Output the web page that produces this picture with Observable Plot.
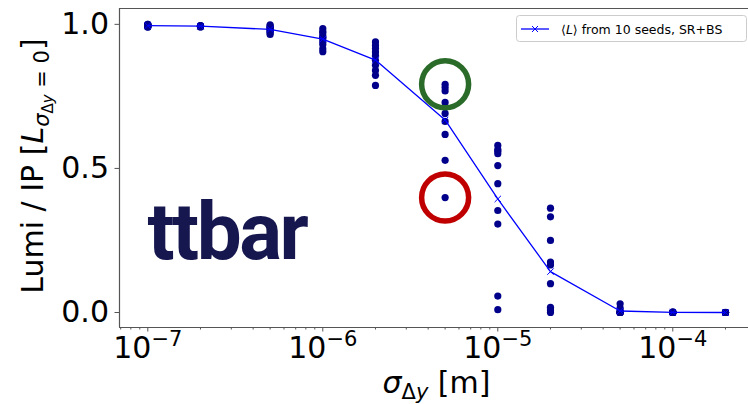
<!DOCTYPE html>
<html>
<head>
<meta charset="utf-8">
<script src="https://cdn.jsdelivr.net/npm/d3@7"></script>
<script src="https://cdn.jsdelivr.net/npm/@observablehq/plot@0.6"></script>
<style>
  html, body { margin: 0; padding: 0; background: #fff; }
  #chart svg { display: block; }
</style>
</head>
<body>
<div id="chart"></div>
<script>
// Vertical beam-offset jitter σ_Δy [m] scanned in the simulation
const sigmaDy = [1e-7, 2e-7, 5e-7, 1e-6, 2e-6, 5e-6, 1e-5, 2e-5, 5e-5, 1e-4, 2e-4];

// Luminosity per IP, normalised to the no-jitter case, one value per seed (10 seeds)
const lumi_1e7 = [1.000, 1.000, 0.998, 0.997, 0.996, 0.995, 0.994, 0.993, 0.991, 0.990];
const lumi_2e7 = [0.996, 0.995, 0.995, 0.994, 0.994, 0.993, 0.993, 0.992, 0.992, 0.991];
const lumi_5e7 = [0.998, 0.995, 0.990, 0.988, 0.985, 0.982, 0.978, 0.975, 0.970, 0.965];
const lumi_1e6 = [0.985, 0.975, 0.970, 0.960, 0.955, 0.950, 0.940, 0.930, 0.915, 0.905];
const lumi_2e6 = [0.939, 0.927, 0.916, 0.904, 0.892, 0.875, 0.858, 0.840, 0.823, 0.788];
const lumi_5e6 = [0.792, 0.781, 0.769, 0.729, 0.712, 0.691, 0.663, 0.618, 0.528, 0.399];
const lumi_1e5 = [0.580, 0.565, 0.560, 0.551, 0.510, 0.447, 0.354, 0.307, 0.057, 0.010];
const lumi_2e5 = [0.362, 0.332, 0.250, 0.175, 0.165, 0.100, 0.018, 0.012, 0.006, 0.000];
const lumi_5e5 = [0.030, 0.015, 0.005, 0.002, 0.001, 0.000, 0.000, 0.000, 0.000, 0.000];
const lumi_1e4 = [0.002, 0.001, 0.001, 0.000, 0.000, 0.000, 0.000, 0.000, 0.000, 0.000];
const lumi_2e4 = [0.001, 0.000, 0.000, 0.000, 0.000, 0.000, 0.000, 0.000, 0.000, 0.000];
const lumiPerSeed = [lumi_1e7, lumi_2e7, lumi_5e7, lumi_1e6, lumi_2e6, lumi_5e6,
                     lumi_1e5, lumi_2e5, lumi_5e5, lumi_1e4, lumi_2e4];

// Seeds singled out: best and worst outcome at σ_Δy = 5e-6 m
const goodSeed = { sigma: 5e-6, lumi: 0.792 };
const badSeed  = { sigma: 5e-6, lumi: 0.399 };

// Axis ticks
const xMajorTicks = [1e-7, 1e-6, 1e-5, 1e-4];
const xMajorLabels = ["10^−7", "10^−6", "10^−5", "10^−4"];
const yTicks = [0, 0.5, 1.0];
const yTickLabels = ["0.0", "0.5", "1.0"];

const seedPoints = sigmaDy.flatMap((s, i) => lumiPerSeed[i].map(v => ({ sigma: s, lumi: v })));
const meanPoints = sigmaDy.map((s, i) => ({ sigma: s, lumi: d3.mean(lumiPerSeed[i]) }));

const xMinorTicks = [];
for (let e = -8; e <= -4; e++)
  for (let m = 2; m <= 9; m++) xMinorTicks.push(m * 10 ** e);

const xDomain = [10 ** -7.1617, 10 ** -3.5674];
const yDomain = [-0.052, 1.055];
const spine = "#555";

const plot = Plot.plot({
  width: 748,
  height: 404,
  marginTop: 8,
  marginBottom: 77,
  marginLeft: 119,
  marginRight: 0,
  style: { fontFamily: "DejaVu Sans, sans-serif", fontSize: "30px", background: "white", color: "black" },
  x: { type: "log", domain: xDomain, axis: null },
  y: { domain: yDomain, axis: null },
  marks: [
    // spines (the right one lies beyond the visible area)
    Plot.ruleY([yDomain[0]], { stroke: spine, strokeWidth: 1.2 }),
    Plot.ruleY([yDomain[1]], { stroke: spine, strokeWidth: 1.2 }),
    Plot.ruleX([xDomain[0]], { stroke: spine, strokeWidth: 1.2 }),
    // ticks
    Plot.axisX({ ticks: xMinorTicks.filter(t => t >= xDomain[0] && t <= xDomain[1] && !xMajorTicks.includes(t)),
                 tickSize: 2.5, tickFormat: () => "", stroke: spine, label: null }),
    Plot.axisX({ ticks: xMajorTicks, tickSize: 4.5, tickPadding: 5, stroke: spine, label: null,
                 tickFormat: d => xMajorLabels[xMajorTicks.indexOf(d)], fill: "black" }),
    Plot.axisY({ ticks: yTicks, tickSize: 4.5, tickPadding: 6, stroke: spine, label: null,
                 tickFormat: d => yTickLabels[yTicks.indexOf(d)], fill: "black" }),
    // per-seed results
    Plot.dot(seedPoints, { x: "sigma", y: "lumi", r: 3.6, fill: "#00008b", stroke: "none" }),
    // seed average
    Plot.line(meanPoints, { x: "sigma", y: "lumi", stroke: "#0000ff", strokeWidth: 1.3 }),
    Plot.dot(meanPoints, { x: "sigma", y: "lumi", symbol: "times", r: 3, stroke: "#0000ff", strokeWidth: 1 }),
    // highlighted seeds
    Plot.dot([goodSeed], { x: "sigma", y: "lumi", r: 23.5, stroke: "#2a6b2a", strokeWidth: 5.5, fill: "none" }),
    Plot.dot([badSeed], { x: "sigma", y: "lumi", r: 23.5, stroke: "#c00000", strokeWidth: 5.5, fill: "none" }),
    // process name
    Plot.text(["ttbar"], { frameAnchor: "top-left", dx: 28, dy: 194, text: d => d, textAnchor: "start",
                           lineAnchor: "top", fontFamily: "Roboto, sans-serif", fontWeight: 700,
                           fontSize: 80, fill: "#171750" })
  ]
});

const svg = d3.select(plot);

// tighten the process name
svg.selectAll('g[aria-label="text"] text').attr("letter-spacing", -2.5);

// superscript exponents on the x tick labels
svg.selectAll('g[aria-label="x-axis tick label"] text').each(function () {
  const s = this.textContent;
  if (!s.includes("^")) return;
  const [base, exp] = s.split("^");
  const t = d3.select(this);
  t.text(null);
  t.append("tspan").text(base);
  t.append("tspan").attr("font-size", "0.7em").attr("dy", "-0.6em").text(exp);
});

// x axis title: σ_Δy [m]
const xt = svg.append("text")
  .attr("x", 436.5).attr("y", 393).attr("text-anchor", "middle")
  .attr("font-size", 30).attr("fill", "black");
xt.append("tspan").attr("font-style", "italic").text("σ");
xt.append("tspan").attr("font-size", 21).attr("dy", 6).text("Δ");
xt.append("tspan").attr("font-size", 21).attr("font-style", "italic").text("y");
xt.append("tspan").attr("dy", -6).text(" [m]");

// y axis title: Lumi / IP [L_{σ_Δy = 0}]
const yt = svg.append("text")
  .attr("transform", "translate(43,166) rotate(-90)")
  .attr("text-anchor", "middle").attr("font-size", 30).attr("fill", "black");
yt.append("tspan").text("Lumi / IP [");
yt.append("tspan").attr("font-style", "italic").text("L");
yt.append("tspan").attr("font-size", 21).attr("font-style", "italic").attr("dy", 6).text("σ");
yt.append("tspan").attr("font-size", 15).attr("dy", 4).text("Δ");
yt.append("tspan").attr("font-size", 15).attr("font-style", "italic").text("y");
yt.append("tspan").attr("font-size", 21).attr("dy", -4).text(" = 0");
yt.append("tspan").attr("dy", -6).text("]");

// legend
const lg = svg.append("g");
lg.append("rect").attr("x", 516.5).attr("y", 15.5).attr("width", 230).attr("height", 26)
  .attr("rx", 3).attr("fill", "white").attr("fill-opacity", 0.8).attr("stroke", "#cccccc");
lg.append("line").attr("x1", 521).attr("x2", 549).attr("y1", 29).attr("y2", 29)
  .attr("stroke", "#0000ff").attr("stroke-width", 1.3);
lg.append("path").attr("d", "M532,26L538,32M532,32L538,26").attr("stroke", "#0000ff").attr("stroke-width", 1);
const lt = lg.append("text").attr("x", 561).attr("y", 33.5).attr("text-anchor", "start")
  .attr("font-size", 12.5).attr("fill", "black");
lt.append("tspan").text("⟨");
lt.append("tspan").attr("font-style", "italic").text("L");
lt.append("tspan").text("⟩ from 10 seeds, SR+BS");

document.getElementById("chart").appendChild(plot);
</script>
</body>
</html>
